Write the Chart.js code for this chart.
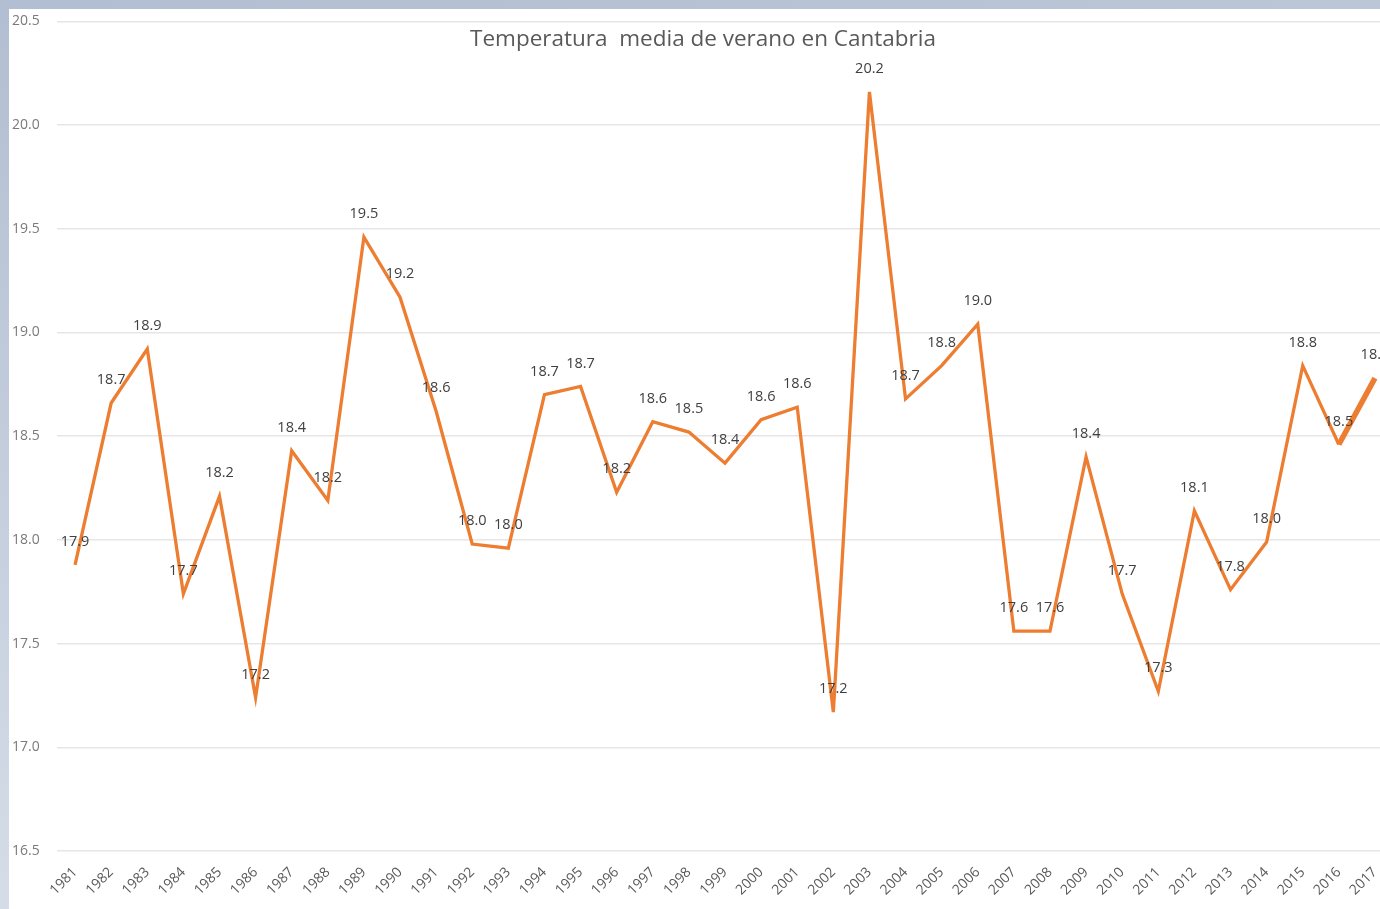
<!DOCTYPE html>
<html>
<head>
<meta charset="utf-8">
<script src="https://cdn.jsdelivr.net/npm/chart.js@4.4.1/dist/chart.umd.min.js"></script>
<style>
  html, body { margin: 0; padding: 0; width: 1380px; height: 909px; overflow: hidden; }
  body {
    background: linear-gradient(170deg, #b2bed1 0%, #c3cddc 40%, #dfe5ee 100%);
    position: relative;
  }
  #wrap { position: absolute; left: 9px; top: 9px; width: 1388px; height: 900px; background: #ffffff; }
  canvas { display: block; }
</style>
</head>
<body>
<div id="wrap"><canvas id="c" width="1388" height="900"></canvas></div>
<script>
const chartTitle = "Temperatura  media de verano en Cantabria";
const years = ["1981","1982","1983","1984","1985","1986","1987","1988","1989","1990",
  "1991","1992","1993","1994","1995","1996","1997","1998","1999","2000",
  "2001","2002","2003","2004","2005","2006","2007","2008","2009","2010",
  "2011","2012","2013","2014","2015","2016","2017"];
const temperatures = [17.88, 18.66, 18.92, 17.74, 18.21, 17.24, 18.43, 18.19, 19.46, 19.17,
  18.62, 17.98, 17.96, 18.70, 18.74, 18.23, 18.57, 18.52, 18.37, 18.58,
  18.64, 17.17, 20.16, 18.68, 18.84, 19.04, 17.56, 17.56, 18.40, 17.74,
  17.27, 18.14, 17.76, 17.99, 18.84, 18.46, 18.78];
const yTickMin = 16.5;
const yTickMax = 20.5;
const yTickStep = 0.5;

const FONT = "'Open Sans', 'DejaVu Sans', sans-serif";

const titlePlugin = {
  id: 'overlayTitle',
  afterDraw(chart) {
    const ctx = chart.ctx;
    ctx.save();
    ctx.font = "22.5px " + FONT;
    ctx.fillStyle = "#595959";
    ctx.textAlign = "center";
    ctx.textBaseline = "middle";
    ctx.fillText(chartTitle, chart.width / 2, 31);
    ctx.restore();
  }
};

const valueLabels = {
  id: 'valueLabels',
  afterDatasetsDraw(chart) {
    const ctx = chart.ctx;
    const meta = chart.getDatasetMeta(0);
    ctx.save();
    ctx.font = "14.5px " + FONT;
    ctx.fillStyle = "#404040";
    ctx.textAlign = "center";
    ctx.textBaseline = "middle";
    meta.data.forEach((pt, i) => {
      const v = chart.data.datasets[0].data[i];
      ctx.fillText(v.toFixed(1), pt.x, pt.y - 23);
    });
    ctx.restore();
  }
};

new Chart(document.getElementById('c'), {
  type: 'line',
  data: {
    labels: years,
    datasets: [{
      data: temperatures,
      borderColor: '#ED7D31',
      borderWidth: 3.3,
      pointRadius: 0,
      tension: 0,
      fill: false,
      segment: {
        borderWidth: ctx => ctx.p0DataIndex === temperatures.length - 2 ? 5.5 : 3.3
      }
    }]
  },
  options: {
    responsive: false,
    animation: false,
    devicePixelRatio: 1,
    layout: { padding: { left: 3, right: 4, top: 9, bottom: 0 } },
    plugins: {
      legend: { display: false },
      title: { display: false },
      tooltip: { enabled: false }
    },
    scales: {
      x: {
        offset: true,
        grid: { display: false },
        border: { display: false },
        ticks: {
          minRotation: 45,
          maxRotation: 45,
          autoSkip: false,
          padding: 5,
          color: '#595959',
          font: { family: FONT, size: 14 }
        },
        afterFit(scale) { scale.height = 58; }
      },
      y: {
        min: yTickMin,
        max: yTickMax,
        border: { display: false },
        grid: { color: '#e6e6e6', lineWidth: 1.5, drawTicks: false },
        ticks: {
          stepSize: yTickStep,
          crossAlign: 'far',
          padding: 4,
          color: '#7a7a7a',
          font: { family: FONT, size: 14 },
          callback: v => Number(v).toFixed(1)
        },
        afterFit(scale) { scale.width = 45; }
      }
    }
  },
  plugins: [titlePlugin, valueLabels]
});
</script>
</body>
</html>
